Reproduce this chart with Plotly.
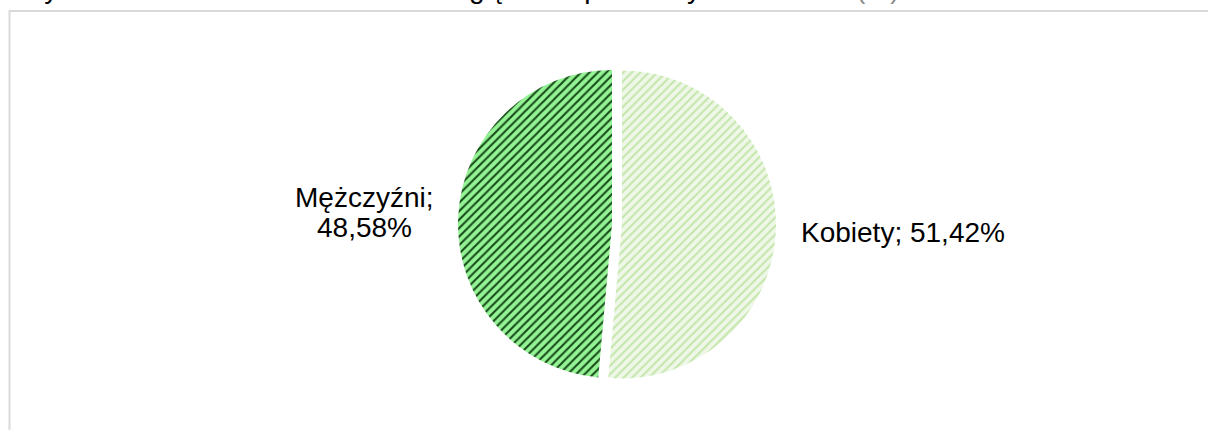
import plotly.graph_objects as go

labels = ["Kobiety", "Mężczyźni"]
values = [51.42, 48.58]
bg_colors = ["#eff8e8", "#94f494"]
fg_colors = ["#c4e6aa", "#184a1a"]
pulls = [0.065, 0.0]

title_text = "Wykres 12. Struktura ludności ze względu na płeć – wywiad"
title_note = "(%)"


def pct(v):
    return f"{v:.2f}%".replace(".", ",")


W, H = 1208, 430
FONT = "Arial, Liberation Sans, sans-serif"

fig = go.Figure()
fig.add_trace(go.Pie(
    labels=labels,
    values=values,
    textinfo="none",
    sort=False,
    direction="clockwise",
    rotation=0,
    pull=pulls,
    marker=dict(
        colors=bg_colors,
        line=dict(width=0),
        pattern=dict(shape="/", fgcolor=fg_colors, bgcolor=bg_colors,
                     size=6, solidity=0.35, fillmode="replace"),
    ),
    showlegend=False,
    hoverinfo="label+percent",
    domain=dict(x=[(612 - 250) / W, (612 + 250) / W], y=[1 - 388 / H, 1 - 60 / H]),
))

label_font = dict(family=FONT, size=28, color="#000000")
annotations = [
    # Kobiety (right side, one line)
    dict(text=f"{labels[0]}; {pct(values[0])}", xref="paper", yref="paper",
         x=799 / W, y=1 - 232 / H, xanchor="left", yanchor="middle",
         showarrow=False, font=label_font),
    # Mężczyźni (left side, two lines)
    dict(text=f"{labels[1]};", xref="paper", yref="paper",
         x=364 / W, y=1 - 197.5 / H, xanchor="center", yanchor="middle",
         showarrow=False, font=label_font),
    dict(text=pct(values[1]), xref="paper", yref="paper",
         x=364 / W, y=1 - 227.5 / H, xanchor="center", yanchor="middle",
         showarrow=False, font=label_font),
    # title (mostly above the visible area)
    dict(text=title_text, xref="paper", yref="paper", x=16 / W, y=1,
         xanchor="left", yanchor="bottom", yshift=-6, showarrow=False,
         font=dict(family=FONT, size=28, color="#000000")),
    dict(text=title_note, xref="paper", yref="paper", x=854 / W, y=1,
         xanchor="left", yanchor="bottom", yshift=-6, showarrow=False,
         font=dict(family=FONT, size=28, color="#8c8c8c")),
]

fig.update_layout(
    width=W, height=H,
    margin=dict(l=0, r=0, t=0, b=0),
    paper_bgcolor="white",
    plot_bgcolor="white",
    separators=", ",
    shapes=[dict(type="rect", xref="paper", yref="paper",
                 x0=9.5 / W, x1=1.2, y0=-0.2, y1=1 - 11 / H,
                 line=dict(color="#d9d9d9", width=2), fillcolor="rgba(0,0,0,0)")],
    annotations=annotations,
)

fig.write_html("out.html", config={"displayModeBar": False},
               post_script="document.body.style.margin='0';")
